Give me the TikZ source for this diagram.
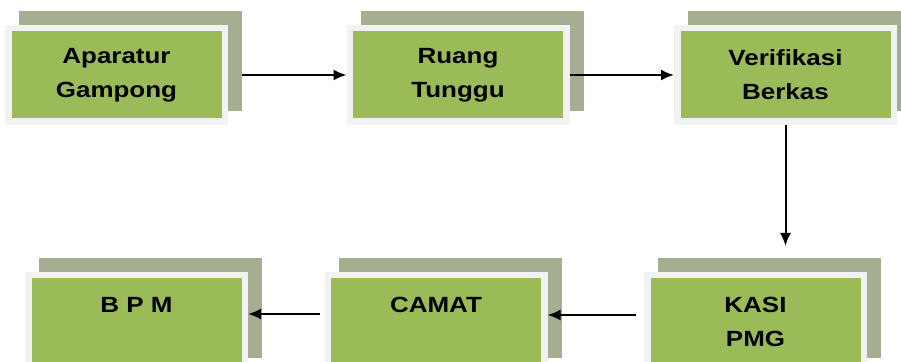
\documentclass[tikz,border=0pt]{standalone}
\usepackage{fontspec}
\setmainfont[FakeStretch=1.18]{Liberation Sans}
\usetikzlibrary{shapes, arrows.meta, shadows}

\definecolor{box-green}{HTML}{9BBB59}
\definecolor{box-frame}{HTML}{F2F2F2}
\definecolor{box-back}{HTML}{A5AE91}

\begin{document}
\begin{tikzpicture}[
x=0.5pt, y=-0.5pt,
block/.style={rectangle, text centered, align=center, fill=box-green, draw=box-frame,
line width=3.25pt, minimum width=108.25pt, minimum height=46.75pt, inner sep=0pt,
font=\fontsize{11}{17}\selectfont\bfseries,
copy shadow={shadow xshift=7pt, shadow yshift=6.75pt, fill=box-back, draw=box-back, line width=3.25pt}},
line/.style={draw, line width=1pt, -{Latex[length=6.5pt, width=5.5pt]}}
]
\useasboundingbox (0,0) rectangle (901,362);
\clip (0,0) rectangle (901,362);

\node [block] (ap) at (116.5,75) {Aparatur\\Gampong};
\node [block] (rt) at (458,75) {Ruang\\Tunggu};
\node [block] (vb) at (785.5,75) {Verifikasi\\Berkas};

\node [block] (kp) at (755.5,322) {KASI\\PMG};
\node [block] (cm) at (436,322) {CAMAT\\~};
\node [block] (bp) at (136.5,322) {B P M\\~};

\coordinate (kp-top) at ([yshift=13pt]kp.north);

\path [line] ([xshift=7pt]ap.east) -- (rt.west);
\path [line] (rt.east) -- (vb.west);
\path [line] (vb.south) -- (vb.south |- kp-top);
\path [line] ([shift={(-4pt,3.5pt)}]kp.west) -- ([yshift=3.5pt]cm.east);
\path [line] ([shift={(-2.5pt,4pt)}]cm.west) -- ([yshift=4pt]bp.east);

\end{tikzpicture}
\end{document}
